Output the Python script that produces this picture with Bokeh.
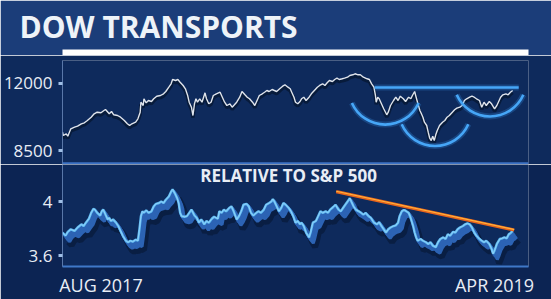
import pandas as pd
from bokeh.plotting import figure
from bokeh.layouts import column
from bokeh.models import Range1d, FixedTicker, Label, Span
from bokeh.embed import file_html
from bokeh.resources import INLINE

# ---------------- data ----------------
START = pd.Timestamp("2017-08-22")
END = pd.Timestamp("2019-05-02")

title_text = "DOW TRANSPORTS"
subtitle_text = "RELATIVE TO S&P 500"
x_tick_labels = ["AUG 2017", "APR 2019"]
x_tick_days = [51, 573]          # where the two date labels sit (days after START)
price_ticks = [8500, 12000]
rel_ticks = [3.6, 4]

# Dow Transports (days after START, index level)
price_days = [0, 1, 5, 7, 11, 16, 20, 25, 29, 33,
              38, 42, 46, 51, 55, 57, 62, 65, 68, 73,
              77, 82, 86, 89, 92, 97, 100, 103, 104, 107,
              108, 111, 114, 118, 121, 125, 130, 134, 137, 141,
              144, 146, 150, 153, 156, 160, 163, 166, 168, 171,
              173, 175, 177, 179, 182, 185, 189, 191, 194, 197,
              200, 204, 209, 212, 215, 218, 222, 225, 228, 231,
              235, 238, 242, 245, 248, 252, 255, 258, 261, 265,
              268, 271, 274, 278, 281, 284, 288, 292, 295, 299,
              302, 304, 307, 309, 312, 315, 317, 320, 323, 327,
              330, 334, 338, 341, 345, 348, 351, 354, 358, 361,
              364, 367, 371, 374, 378, 381, 385, 388, 392, 395,
              399, 404, 407, 410, 413, 415, 416, 418, 420, 423,
              426, 430, 432, 435, 439, 442, 445, 448, 452, 455,
              459, 462, 464, 467, 469, 472, 474, 476, 478, 480,
              483, 485, 487, 489, 491, 493, 495, 497, 500, 504,
              507, 510, 513, 517, 520, 523, 527, 530, 533, 536,
              540, 543, 546, 549, 553, 556, 559, 562, 566, 569,
              573, 576, 578, 581, 584, 588, 591, 594, 597]
price_vals = [9456, 9284, 9372, 9247, 9634, 9717, 9769, 9895, 9947, 10067,
              10240, 10417, 10501, 10469, 10590, 10642, 10417, 10537, 10365, 10328,
              10240, 10067, 9895, 9806, 9895, 9978, 10156, 10501, 11023, 10851,
              11201, 10992, 11112, 11060, 11201, 11337, 11373, 11462, 11582, 11807,
              11984, 12209, 12157, 12209, 12068, 11896, 11723, 11373, 11023, 10762,
              10328, 10940, 11201, 11023, 11201, 11023, 11514, 11201, 10940, 11023,
              11373, 11462, 11545, 11284, 11023, 10851, 10940, 10762, 10887, 11023,
              11284, 11582, 11410, 11284, 11201, 11023, 10851, 11112, 11373, 11462,
              11545, 11634, 11582, 11687, 11634, 11582, 11723, 11859, 11932, 11807,
              11723, 11545, 11284, 11023, 10940, 11060, 11201, 11284, 11112, 11284,
              11462, 11634, 11807, 11896, 11984, 11896, 12037, 12157, 12104, 12209,
              12277, 12209, 12246, 12277, 12329, 12418, 12454, 12507, 12454, 12454,
              12329, 12246, 12209, 11984, 11807, 11373, 11023, 11284, 11201, 10940,
              10678, 10365, 10501, 10851, 11112, 11284, 11112, 11337, 11201, 11060,
              11284, 11201, 11373, 11582, 11284, 10851, 10590, 10417, 10240, 9978,
              9806, 9456, 9142, 9022, 9247, 9022, 9320, 9545, 9806, 9978,
              10067, 10240, 10328, 10501, 10626, 10710, 10762, 10851, 11112, 11201,
              11284, 11337, 11284, 11201, 11112, 10762, 11023, 10851, 11060, 10940,
              10678, 10851, 11023, 11284, 11410, 11462, 11410, 11545, 11634]

# Relative to S&P 500
rel_days = [0, 4, 7, 11, 16, 20, 25, 28, 31, 35,
            38, 41, 43, 46, 50, 52, 54, 57, 60, 62,
            64, 67, 71, 74, 77, 80, 84, 87, 90, 93,
            97, 100, 102, 104, 106, 108, 111, 114, 118, 121,
            124, 128, 131, 134, 137, 141, 144, 146, 149, 152,
            154, 156, 158, 162, 165, 168, 171, 175, 178, 181,
            184, 188, 191, 194, 198, 201, 206, 208, 211, 214,
            217, 221, 224, 227, 231, 234, 237, 240, 244, 247,
            250, 253, 257, 260, 263, 267, 270, 274, 277, 279,
            281, 284, 287, 290, 293, 296, 300, 303, 306, 309,
            312, 315, 317, 320, 323, 327, 329, 332, 336, 339,
            342, 345, 349, 352, 355, 359, 362, 366, 369, 372,
            375, 379, 381, 383, 386, 389, 393, 396, 399, 402,
            406, 409, 413, 417, 420, 423, 426, 429, 432, 435,
            439, 442, 445, 447, 450, 452, 454, 456, 459, 461,
            463, 465, 467, 469, 471, 475, 478, 482, 485, 488,
            491, 495, 498, 501, 505, 508, 511, 514, 518, 521,
            524, 527, 531, 534, 537, 540, 543, 546, 549, 553,
            556, 559, 562, 566, 569, 571, 573, 576, 580, 583,
            586, 589, 592, 594, 597]
rel_vals = [3.772, 3.748, 3.777, 3.796, 3.784, 3.809, 3.833, 3.820, 3.845, 3.874,
            3.918, 3.947, 3.942, 3.918, 3.898, 3.929, 3.942, 3.905, 3.869, 3.881,
            3.857, 3.869, 3.845, 3.820, 3.784, 3.748, 3.711, 3.700, 3.711, 3.704,
            3.719, 3.711, 3.796, 3.893, 3.929, 3.918, 3.937, 3.918, 3.929, 3.966,
            3.985, 3.991, 4.002, 3.991, 4.015, 4.039, 4.075, 4.092, 4.063, 4.027,
            3.991, 3.918, 3.893, 3.889, 3.893, 3.918, 3.942, 3.898, 3.881, 3.845,
            3.869, 3.833, 3.857, 3.845, 3.874, 3.889, 3.874, 3.929, 3.918, 3.942,
            3.929, 3.954, 3.966, 3.929, 3.869, 3.893, 3.929, 3.978, 3.985, 3.966,
            3.918, 3.898, 3.918, 3.929, 3.918, 3.942, 3.978, 3.991, 4.002, 4.020,
            4.002, 3.966, 3.929, 3.954, 3.991, 3.978, 3.954, 3.929, 3.893, 3.845,
            3.857, 3.833, 3.845, 3.820, 3.772, 3.736, 3.772, 3.845, 3.857, 3.893,
            3.929, 3.918, 3.929, 3.918, 3.942, 3.961, 3.978, 3.942, 3.929, 3.954,
            3.978, 4.009, 4.027, 4.002, 3.966, 3.942, 3.929, 3.918, 3.905, 3.918,
            3.893, 3.881, 3.845, 3.833, 3.849, 3.820, 3.796, 3.772, 3.796, 3.809,
            3.820, 3.825, 3.845, 3.893, 3.929, 3.937, 3.937, 3.929, 3.918, 3.893,
            3.857, 3.820, 3.772, 3.736, 3.711, 3.724, 3.711, 3.700, 3.687, 3.700,
            3.675, 3.663, 3.700, 3.724, 3.736, 3.724, 3.760, 3.748, 3.777, 3.772,
            3.796, 3.809, 3.820, 3.833, 3.840, 3.833, 3.809, 3.772, 3.748, 3.724,
            3.711, 3.700, 3.711, 3.687, 3.651, 3.615, 3.639, 3.687, 3.724, 3.729,
            3.736, 3.729, 3.760, 3.767, 3.784]

# annotations: neckline, shoulder/head cups, relative-strength trendline
neck_days = [414, 605]
neck_vals = [11791, 11791]
cup_days = [428, 494, 567]
cup_vals = [11760, 10642, 12183]
trend_days = [363, 599]
trend_vals = [4.075, 3.791]


def dates(days, shift=0.0):
    return [START + pd.Timedelta(days=d + shift) for d in days]


# ---------------- styling ----------------
FONT = "Open Sans"
TITLE_BG = "#1b3d79"
BG = "#0e2a5c"
BG_LOW = "#0c2453"
TXT = "#e8edf5"
W = 551

x_range = Range1d(START, END)

# ---------------- title bar ----------------
tf = figure(width=W, height=55, x_range=Range1d(0, 1), y_range=Range1d(0, 1),
            x_axis_type=None, y_axis_type=None, toolbar_location=None,
            output_backend="svg", min_border_left=58, min_border_right=23,
            min_border_top=2, min_border_bottom=0, outline_line_color=None,
            background_fill_color=None, border_fill_color=TITLE_BG)
tf.title.text = title_text
tf.title.align = "left"
tf.title.offset = -43
tf.title.standoff = 6
tf.title.text_font = FONT
tf.title.text_font_size = "30px"
tf.title.text_font_style = "bold"
tf.title.text_color = "#eef3f8"

# ---------------- price panel ----------------
P_LO, P_HI = 7769, 13201
pf = figure(width=W, height=109, x_range=x_range, y_range=Range1d(P_LO, P_HI),
            x_axis_location=None, toolbar_location=None, output_backend="svg",
            min_border_left=58, min_border_right=23, min_border_top=5,
            min_border_bottom=0, background_fill_color=BG,
            border_fill_color=BG, outline_line_color=None)
pf.grid.visible = False
ya = pf.yaxis[0]
ya.ticker = FixedTicker(ticks=price_ticks)
ya.minor_tick_line_color = None
ya.major_tick_in = 0
ya.major_tick_out = 4
ya.major_tick_line_width = 3
ya.major_tick_line_color = "#9fbfe6"
ya.axis_line_color = "#5f82b8"
ya.axis_line_alpha = 0.7
ya.major_label_text_font = FONT
ya.major_label_text_font_size = "17px"
ya.major_label_text_color = TXT
ya.major_label_standoff = 6

pd_dates = dates(price_days)
pf.line(pd_dates, [v - 110 for v in price_vals], line_color="#000814",
        line_alpha=0.45, line_width=3.5)
pf.line(pd_dates, price_vals, line_color="#dfe4ec", line_width=1.4)

# neckline and cups
pf.line(dates(neck_days), neck_vals, line_color="#3d9af2", line_width=6,
        line_alpha=0.25)
pf.line(dates(neck_days), neck_vals, line_color="#46a6f7", line_width=2.6)
pf.arc(dates(cup_days), cup_vals, radius=36.5, radius_units="screen",
       start_angle=204, end_angle=336, start_angle_units="deg",
       end_angle_units="deg", direction="anticlock",
       line_color="#3d9af2", line_width=6, line_alpha=0.25)
pf.arc(dates(cup_days), cup_vals, radius=36.5, radius_units="screen",
       start_angle=204, end_angle=336, start_angle_units="deg",
       end_angle_units="deg", direction="anticlock",
       line_color="#46a6f7", line_width=2.6)

pf.add_layout(Span(location=P_LO + 40, dimension="width",
                   line_color="#3c72c4", line_width=3))

# ---------------- relative panel ----------------
R_LO, R_HI = 3.52, 4.2764
rf = figure(width=W, height=135, x_range=x_range, y_range=Range1d(R_LO, R_HI),
            x_axis_type="datetime", toolbar_location=None, output_backend="svg",
            min_border_left=58, min_border_right=23, min_border_top=0,
            min_border_bottom=31, background_fill_color=BG,
            border_fill_color=BG_LOW, outline_line_color=None)
rf.grid.visible = False
ry = rf.yaxis[0]
ry.ticker = FixedTicker(ticks=rel_ticks)
ry.major_label_overrides = {3.6: "3.6", 4: "4"}
ry.minor_tick_line_color = None
ry.major_tick_in = 0
ry.major_tick_out = 4
ry.major_tick_line_width = 3
ry.major_tick_line_color = "#9fbfe6"
ry.axis_line_color = "#5f82b8"
ry.axis_line_alpha = 0.7
ry.major_label_text_font = FONT
ry.major_label_text_font_size = "17px"
ry.major_label_text_color = TXT
ry.major_label_standoff = 6

x_tick_ms = [(START + pd.Timedelta(days=d)).value / 1e6 for d in x_tick_days]
rx = rf.xaxis[0]
rx.ticker = FixedTicker(ticks=x_tick_ms)
rx.major_label_overrides = dict(zip(x_tick_ms, x_tick_labels))
rx.minor_tick_line_color = None
rx.major_tick_line_color = None
rx.major_tick_in = 0
rx.major_tick_out = 0
rx.major_label_standoff = 6
rx.major_label_text_font = FONT
rx.major_label_text_font_size = "18px"
rx.major_label_text_color = TXT
rx.axis_line_color = "#3f78c8"
rx.axis_line_width = 2

# shadow + extruded ribbon + bright line
rf.line(dates(rel_days, 8), [v - 0.07 for v in rel_vals], line_color="#000814",
        line_alpha=0.35, line_width=6)
for k in range(1, 5):
    rf.line(dates(rel_days, 1.4 * k), [v - 0.011 * k for v in rel_vals],
            line_color="#2c63b4", line_width=3)
rf.line(dates(rel_days), rel_vals, line_color="#5fbaf3", line_width=2.4)
rf.line(dates(rel_days), rel_vals, line_color="#a8dcfb", line_width=0.8,
        line_alpha=0.8)

rf.line(dates(trend_days), trend_vals, line_color="#e8641c", line_width=3.2)
rf.line(dates(trend_days), [v + 0.003 for v in trend_vals],
        line_color="#ffb13b", line_width=1.2)

rf.add_layout(Label(x=226, y=91, x_units="screen", y_units="screen",
                    text=subtitle_text, text_font=FONT, text_font_size="17px",
                    text_font_style="bold", text_color=TXT,
                    text_align="center", text_baseline="middle"))

layout = column(tf, pf, rf, spacing=0)
open("out.html", "w").write(file_html(layout, INLINE))
